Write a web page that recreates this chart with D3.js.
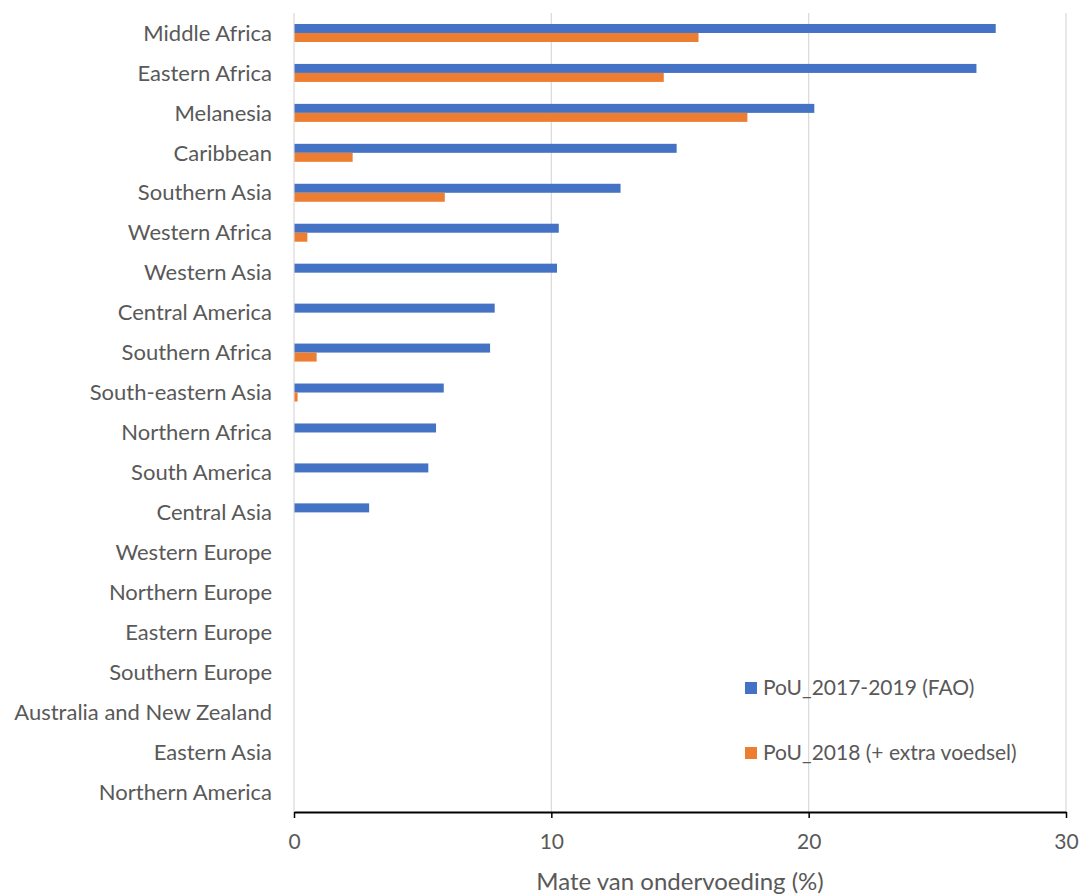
<!DOCTYPE html>
<html><head><meta charset="utf-8">
<script src="https://cdn.jsdelivr.net/npm/d3@7"></script>
<style>body{margin:0;background:#fff}svg{display:block}</style>
</head><body><svg id="c" width="1081" height="894"></svg>
<script>
const categories = ["Middle Africa","Eastern Africa","Melanesia","Caribbean","Southern Asia","Western Africa","Western Asia","Central America","Southern Africa","South-eastern Asia","Northern Africa","South America","Central Asia","Western Europe","Northern Europe","Eastern Europe","Southern Europe","Australia and New Zealand","Eastern Asia","Northern America"];
const pouFAO = [27.25,26.5,20.2,14.85,12.67,10.27,10.2,7.78,7.6,5.8,5.5,5.2,2.9,0,0,0,0,0,0,0];
const pouExtra = [15.7,14.35,17.6,2.26,5.84,0.5,0,0,0.86,0.12,0,0,0,0,0,0,0,0,0,0];
const seriesNames = ["PoU_2017-2019 (FAO)","PoU_2018 (+ extra voedsel)"];
const colors = ["#4472C4","#ED7D31"];
const xTicks = [0,10,20,30];
const xTitle = "Mate van ondervoeding (%)";

const font = "Lato, 'Open Sans', sans-serif";
const svg = d3.select("#c");
const m = {left:294, right:1066, top:13, bottom:812};
const x = d3.scaleLinear().domain([0,30]).range([m.left,m.right]);
const y = d3.scaleBand().domain(categories).range([m.top,m.bottom]).paddingInner(0).paddingOuter(0);
const barH = 9;

// gridlines
svg.append("g").selectAll("line").data(xTicks).join("line")
  .attr("x1",d=>x(d)).attr("x2",d=>x(d)).attr("y1",m.top).attr("y2",m.bottom)
  .attr("stroke","#d9d9d9").attr("stroke-width",1.2);

// bars
const series = [pouFAO,pouExtra];
series.forEach((vals,si)=>{
  svg.append("g").selectAll("rect").data(categories).join("rect")
    .attr("x",x(0)+0.5)
    .attr("y",(d,i)=>y(d)+y.bandwidth()/2 - barH + si*barH)
    .attr("width",(d,i)=>Math.max(0,x(vals[i])-x(0)))
    .attr("height",barH)
    .attr("fill",colors[si]);
});

// category labels
svg.append("g").selectAll("text").data(categories).join("text")
  .attr("x",272).attr("y",d=>y(d)+y.bandwidth()/2).attr("dy","0.35em")
  .attr("text-anchor","end").attr("fill","#595959")
  .style("font-family",font).style("font-size","22px").text(d=>d);

// x axis
const ax = svg.append("g").attr("transform",`translate(0,${m.bottom})`)
  .call(d3.axisBottom(x).tickValues(xTicks).tickSize(6).tickSizeOuter(0).tickPadding(16));
ax.select(".domain").attr("stroke","#000").attr("stroke-width",2.2);
ax.selectAll(".tick line").attr("stroke","#000").attr("stroke-width",1.5);
ax.selectAll(".tick text").attr("fill","#595959").style("font-family",font).style("font-size","21px");

svg.append("text").attr("x",(m.left+m.right)/2).attr("y",890).attr("text-anchor","middle")
  .attr("fill","#595959").style("font-family",font).style("font-size","24px").text(xTitle);

// legend
const lg = svg.append("g");
seriesNames.forEach((n,i)=>{
  const yy = 688 + i*65;
  lg.append("rect").attr("x",745).attr("y",yy-6).attr("width",12).attr("height",12).attr("fill",colors[i]);
  lg.append("text").attr("x",763).attr("y",yy).attr("dy","0.35em").attr("fill","#595959")
    .style("font-family",font).style("font-size","21px").text(n);
});
</script></body></html>
